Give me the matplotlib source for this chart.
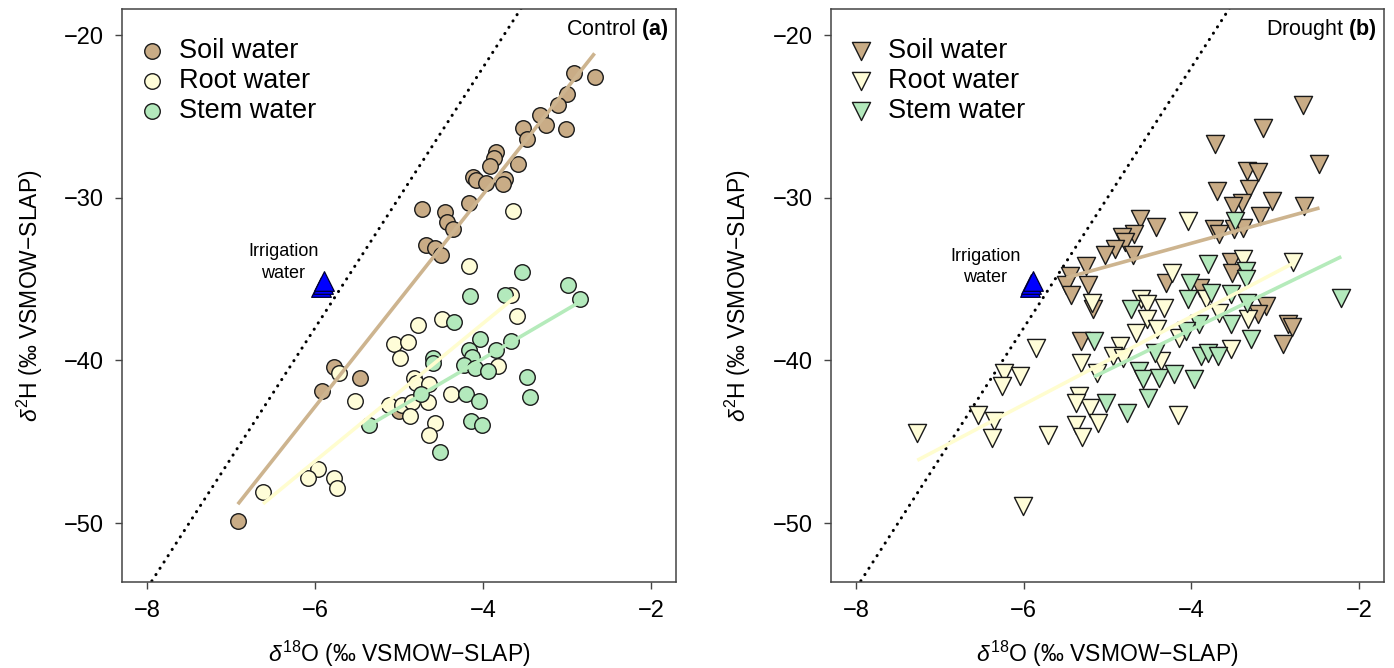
import numpy as np
import matplotlib
matplotlib.use("Agg")
import matplotlib.pyplot as plt

plt.rcParams['font.family'] = ['Liberation Sans', 'DejaVu Sans']
plt.rcParams['mathtext.fontset'] = 'custom'
plt.rcParams['mathtext.rm'] = 'Liberation Sans'
plt.rcParams['mathtext.it'] = 'Liberation Sans:italic'
plt.rcParams['mathtext.bf'] = 'Liberation Sans:bold'

# --- Control (a): d18O / d2H values ---
soil_a_x = [-2.92, -2.67, -3.00, -3.10, -3.32, -3.25, -3.01, -3.52, -3.48, -3.85, -3.87, -3.92,
            -3.58, -4.12, -4.08, -3.96, -3.74, -3.76, -4.17, -4.73, -4.45, -4.43, -4.36, -4.68,
            -4.57, -4.50, -5.77, -5.47, -5.92, -6.92, -5.00]
soil_a_y = [-22.31, -22.59, -23.63, -24.33, -24.90, -25.55, -25.78, -25.71, -26.37, -27.18, -27.55, -28.06,
            -27.92, -28.71, -28.92, -29.12, -28.82, -29.14, -30.31, -30.71, -30.88, -31.47, -31.90, -32.92,
            -33.06, -33.51, -40.39, -41.07, -41.89, -49.86, -43.12]
root_a_x = [-3.64, -4.17, -3.67, -3.60, -4.77, -4.49, -5.06, -4.89, -4.99, -3.82, -4.82, -4.80,
            -4.64, -5.53, -5.12, -4.96, -4.84, -4.65, -4.38, -4.87, -4.57, -4.64, -5.97, -6.09,
            -5.78, -5.74, -6.62, -5.72]
root_a_y = [-30.82, -34.20, -35.95, -37.27, -37.84, -37.47, -38.97, -38.85, -39.88, -40.35, -41.07, -41.38,
            -41.48, -42.50, -42.71, -42.71, -42.57, -42.55, -42.09, -43.43, -43.84, -44.56, -46.67, -47.23,
            -47.23, -47.84, -48.09, -40.76]
stem_a_x = [-3.53, -2.99, -2.84, -4.15, -3.74, -4.34, -4.03, -3.66, -4.17, -4.13, -3.84, -4.60,
            -4.60, -4.22, -4.09, -3.94, -3.47, -3.44, -4.74, -4.20, -4.05, -4.14, -4.01, -5.36, -4.51]
stem_a_y = [-34.58, -35.36, -36.20, -36.02, -35.95, -37.62, -38.71, -38.81, -39.38, -39.79, -39.38, -39.88,
            -40.14, -40.31, -40.45, -40.66, -41.01, -42.24, -42.09, -42.09, -42.50, -43.74, -43.94, -44.00, -45.65]

# --- Drought (b) ---
soil_b_x = [-2.67, -3.14, -3.72, -2.47, -3.33, -3.20, -3.69, -3.31, -3.04, -3.40, -3.50, -2.65,
            -3.18, -4.61, -4.42, -3.73, -3.49, -3.38, -3.67, -4.68, -4.83, -4.79, -4.91, -5.03,
            -4.69, -5.26, -5.45, -5.23, -5.49, -5.43, -5.17, -4.30, -3.90, -3.53, -3.52, -3.11,
            -3.20, -2.84, -2.80, -2.91, -5.32]
soil_b_y = [-24.29, -25.73, -26.67, -27.95, -28.36, -28.40, -29.59, -29.45, -30.21, -30.31, -30.51, -30.51,
            -31.13, -31.33, -31.81, -31.95, -31.95, -31.85, -32.26, -32.26, -32.42, -32.71, -33.18, -33.55,
            -33.55, -34.21, -34.83, -35.34, -35.34, -35.96, -36.82, -35.22, -35.52, -33.98, -34.60, -36.65,
            -37.17, -37.78, -37.95, -39.01, -38.81]
root_b_x = [-4.04, -3.38, -2.79, -4.23, -4.60, -4.53, -4.33, -3.83, -3.67, -3.32, -4.53, -4.41,
            -4.66, -4.15, -4.85, -4.94, -4.81, -4.36, -5.32, -5.13, -5.85, -6.23, -6.05, -6.26,
            -5.34, -5.21, -5.37, -6.55, -6.35, -5.11, -5.37, -4.16, -6.38, -5.71, -5.31, -7.27,
            -6.01, -3.53, -5.19]
root_b_y = [-31.44, -33.78, -33.94, -34.60, -36.24, -36.55, -36.76, -36.24, -37.06, -37.47, -37.47, -38.09,
            -38.30, -38.60, -39.12, -39.73, -39.84, -40.04, -40.14, -40.76, -39.22, -40.76, -40.97, -41.58,
            -42.20, -42.92, -42.61, -43.33, -43.74, -43.84, -43.94, -43.33, -44.76, -44.56, -44.70, -44.46,
            -48.97, -39.32, -36.45]
stem_b_x = [-3.48, -3.80, -3.35, -3.35, -4.02, -4.04, -3.76, -3.53, -3.34, -4.72, -2.21, -3.53,
            -3.91, -4.06, -3.29, -5.16, -4.43, -3.89, -3.80, -3.68, -4.62, -4.58, -4.39, -4.21,
            -3.97, -4.52, -5.02, -4.77]
stem_b_y = [-31.44, -34.08, -34.50, -35.01, -35.22, -36.24, -35.83, -35.93, -36.45, -36.86, -36.14, -37.78,
            -37.78, -38.19, -38.71, -38.81, -39.53, -39.73, -39.57, -39.73, -40.66, -41.17, -41.07, -40.86,
            -41.17, -42.30, -42.61, -43.22]

# irrigation water (several overlapping samples)
irr_a_x = [-5.93, -5.91, -5.89]
irr_a_y = [-35.5, -35.3, -35.1]
irr_b_x = [-5.93, -5.91, -5.89]
irr_b_y = [-35.5, -35.3, -35.1]

# fitted lines: (slope, intercept)
fit_a = {'soil': (6.52, -3.72), 'root': (4.23, -20.81), 'stem': (3.02, -27.81)}
fit_b = {'soil': (1.42, -27.12), 'root': (2.70, -26.51), 'stem': (2.50, -28.10)}

# global meteoric water line
gmwl = (8.0, 10.0)

labels = ['Soil water', 'Root water', 'Stem water']
fill = {'soil': '#C9AC86', 'root': '#FFFDD8', 'stem': '#B3E9BC'}
line_col = {'soil': '#CDB48F', 'root': '#FFFDCF', 'stem': '#B5EBBB'}

fig = plt.figure(figsize=(13.94, 6.68), dpi=100)
W, H = 1394, 668
ax_a = fig.add_axes([122 / W, (H - 582) / H, 554 / W, 573 / H])
ax_b = fig.add_axes([831 / W, (H - 582) / H, 553 / W, 573 / H])


def panel(ax, data, fits, irr_x, irr_y, marker, size, title, irr_xy):
    # GMWL dotted line
    xx = np.array([-9.0, -1.0])
    ax.plot(xx, gmwl[0] * xx + gmwl[1], color='black', lw=2.2,
            linestyle=(0, (0.05, 2.4)), dash_capstyle='round', zorder=2)
    handles = []
    for key, lab in zip(['soil', 'root', 'stem'], labels):
        x, y = data[key]
        h = ax.scatter(x, y, s=size, marker=marker, facecolor=fill[key],
                       edgecolor='#1a1a1a', linewidths=1.0, zorder=3, label=lab)
        handles.append(h)
    for key in ['soil', 'root', 'stem']:
        x, y = data[key]
        k, b = fits[key]
        xl = np.array([min(x), max(x)])
        ax.plot(xl, k * xl + b, color=line_col[key], lw=2.6, zorder=4,
                solid_capstyle='butt')
    ax.scatter(irr_x, irr_y, s=200, marker='^', facecolor='#0000FF',
               edgecolor='#000033', linewidths=0.9, zorder=5)
    ax.text(irr_xy[0], irr_xy[1], 'Irrigation\nwater', ha='center', va='center',
            fontsize=13, linespacing=1.35)
    ax.text(0.987, 0.965, title, transform=ax.transAxes, ha='right', va='center',
            fontsize=15.5)
    ax.legend(handles=handles, loc='upper left', bbox_to_anchor=(0.03, 0.95),
              frameon=False, fontsize=19.5, borderpad=0, borderaxespad=0,
              handlelength=1.0, handletextpad=0.5, labelspacing=0.15)
    ax.set_xlim(-8.3, -1.7)
    ax.set_ylim(-53.62, -18.4)
    ax.set_xticks([-8, -6, -4, -2])
    ax.set_yticks([-20, -30, -40, -50])
    ax.tick_params(labelsize=17, length=5, width=1, color='#444444', pad=8)
    for sp in ax.spines.values():
        sp.set_color('#444444')
        sp.set_linewidth(1.1)
    ax.set_xlabel(r'$\delta^{18}$O (‰ VSMOW−SLAP)', fontsize=16.5, labelpad=12)
    ax.set_ylabel(r'$\delta^{2}$H (‰ VSMOW−SLAP)', fontsize=16.5, labelpad=14)


panel(ax_a,
      {'soil': (soil_a_x, soil_a_y), 'root': (root_a_x, root_a_y), 'stem': (stem_a_x, stem_a_y)},
      fit_a, irr_a_x, irr_a_y, 'o', 125, r'Control $\mathbf{(a)}$', (-6.38, -33.98))
panel(ax_b,
      {'soil': (soil_b_x, soil_b_y), 'root': (root_b_x, root_b_y), 'stem': (stem_b_x, stem_b_y)},
      fit_b, irr_b_x, irr_b_y, 'v', 170, r'Drought $\mathbf{(b)}$', (-6.46, -34.27))

fig.savefig('out.png', dpi=100)
